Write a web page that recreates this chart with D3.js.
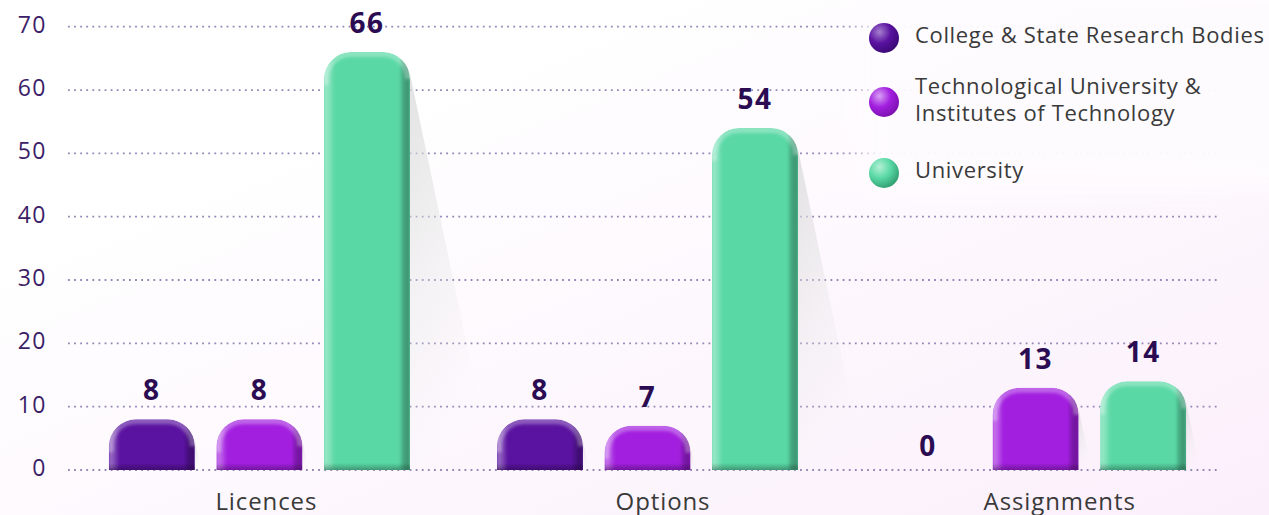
<!DOCTYPE html>
<html>
<head>
<meta charset="utf-8">
<script src="https://cdn.jsdelivr.net/npm/d3@7"></script>
<style>
  body { margin: 0; background: #fff; }
  #viz svg { display: block; }
  text { font-family: "Open Sans", sans-serif; }
</style>
</head>
<body>
<div id="viz"></div>
<script>
var categories = ['Licences', 'Options', 'Assignments'];
var seriesNames = ['College & State Research Bodies', 'Technological University & Institutes of Technology', 'University'];
var legendLines = [['College & State Research Bodies'], ['Technological University &', 'Institutes of Technology'], ['University']];
var collegeValues = [8, 8, 0];
var techValues = [8, 7, 13];
var universityValues = [66, 54, 14];
var yTicks = [0, 10, 20, 30, 40, 50, 60, 70];

var width = 1269,
    height = 515;

var barColors = ['#5a12a0', '#a21fdf', '#59d8a5'];
var sphereLight = ['#a77fd0', '#d8a0f4', '#b4f0d6'];
var sphereDark = ['#3a0874', '#7a10ad', '#2f9c70'];

// build rows for the bars
var rows = [];
categories.forEach(function (c, i) {
    [collegeValues, techValues, universityValues].forEach(function (vals, s) {
        rows.push({ cat: c, series: s, value: vals[i], id: i * 3 + s });
    });
});

var svg = d3.select('#viz').append('svg')
    .attr('width', width)
    .attr('height', height);

var defs = svg.append('defs');

// background wash
var bg = defs.append('linearGradient').attr('id', 'bg')
    .attr('x1', 0).attr('y1', 0).attr('x2', 1).attr('y2', 1);
bg.append('stop').attr('offset', 0.25).attr('stop-color', '#ffffff');
bg.append('stop').attr('offset', 1).attr('stop-color', '#fbeffb');

svg.append('rect')
    .attr('width', width).attr('height', height)
    .attr('fill', 'url(#bg)');

var yScale = d3.scaleLinear()
    .domain([0, 70])
    .range([470, 26.7]);

var x0 = d3.scaleBand()
    .domain(categories)
    .range([70, 1225])
    .paddingInner(0.224)
    .paddingOuter(0.1);

var x1 = d3.scaleBand()
    .domain([0, 1, 2])
    .range([0, x0.bandwidth()])
    .paddingInner(0.2);

var labelScale = d3.scaleBand()
    .domain(categories)
    .range([68, 1258]);

// gridlines
svg.append('g').selectAll('line').data(yTicks)
    .enter().append('line')
    .attr('x1', 68)
    .attr('x2', 1218)
    .attr('y1', function (d) { return yScale(d); })
    .attr('y2', function (d) { return yScale(d); })
    .attr('stroke', '#9186b5')
    .attr('stroke-width', 1.8)
    .attr('stroke-dasharray', '1.8,4.3');

// y labels
svg.append('g').selectAll('text').data(yTicks)
    .enter().append('text')
    .attr('x', 47)
    .attr('y', function (d) { return yScale(d) + 6; })
    .attr('text-anchor', 'end')
    .attr('fill', '#3b1d68')
    .style('font-size', '23px')
    .style('letter-spacing', '1.5px')
    .text(function (d) { return d; });

// shading gradients
var hShade = defs.append('linearGradient').attr('id', 'hshade')
    .attr('x1', 0).attr('y1', 0).attr('x2', 1).attr('y2', 0);
[[0, '#fff', 0.45], [0.09, '#fff', 0.15], [0.12, '#fff', 0], [0.88, '#000', 0], [0.91, '#000', 0.2], [1, '#000', 0.35]]
    .forEach(function (s) {
        hShade.append('stop').attr('offset', s[0]).attr('stop-color', s[1]).attr('stop-opacity', s[2]);
    });

var shadowGrad = defs.append('linearGradient').attr('id', 'shadowgrad')
    .attr('x1', 0).attr('y1', 0).attr('x2', 0.3).attr('y2', 1);
shadowGrad.append('stop').attr('offset', 0).attr('stop-color', '#d8d8d8').attr('stop-opacity', 0.75);
shadowGrad.append('stop').attr('offset', 0.85).attr('stop-color', '#e6e6e6').attr('stop-opacity', 0.1);
shadowGrad.append('stop').attr('offset', 1).attr('stop-color', '#eeeeee').attr('stop-opacity', 0);

var bottomShade = defs.append('linearGradient').attr('id', 'bshade')
    .attr('x1', 0).attr('y1', 0).attr('x2', 0).attr('y2', 1);
bottomShade.append('stop').attr('offset', 0).attr('stop-color', '#000').attr('stop-opacity', 0);
bottomShade.append('stop').attr('offset', 1).attr('stop-color', '#000').attr('stop-opacity', 0.3);

defs.append('filter').attr('id', 'soft')
    .append('feGaussianBlur').attr('stdDeviation', 1.6);

defs.append('filter').attr('id', 'fog')
    .attr('x', -0.2).attr('y', -0.2).attr('width', 1.4).attr('height', 1.4)
    .append('feGaussianBlur').attr('stdDeviation', 12);

// soft white patch behind the legend, fades the gridlines there
svg.append('rect')
    .attr('x', 862).attr('y', -20)
    .attr('width', 440).attr('height', 210)
    .attr('rx', 20)
    .attr('fill', '#fefcfe')
    .attr('opacity', 0.95)
    .attr('filter', 'url(#fog)');

var radius = 27;

function barPath(d) {
    var x = x0(d.cat) + x1(d.series),
        w = x1.bandwidth(),
        y = yScale(d.value),
        b = yScale(0),
        r = Math.min(radius, (b - y));
    return 'M' + x + ',' + b +
        'V' + (y + r) +
        'A' + r + ',' + r + ' 0 0 1 ' + (x + r) + ',' + y +
        'H' + (x + w - r) +
        'A' + r + ',' + r + ' 0 0 1 ' + (x + w) + ',' + (y + r) +
        'V' + b + 'Z';
}

function topPath(d) {
    var x = x0(d.cat) + x1(d.series),
        w = x1.bandwidth(),
        y = yScale(d.value),
        b = yScale(0),
        r = Math.min(radius, (b - y));
    return 'M' + x + ',' + (y + r + 6) +
        'V' + (y + r) +
        'A' + r + ',' + r + ' 0 0 1 ' + (x + r) + ',' + y +
        'H' + (x + w - r) +
        'A' + r + ',' + r + ' 0 0 1 ' + (x + w) + ',' + (y + r);
}

var bars = rows.filter(function (d) { return d.value > 0; });

// shadows behind bars
svg.append('g').selectAll('path').data(bars)
    .enter().append('path')
    .attr('d', function (d) {
        var xr = x0(d.cat) + x1(d.series) + x1.bandwidth(),
            y = yScale(d.value) + radius * 0.8,
            b = yScale(0);
        return 'M' + xr + ',' + y + 'L' + (xr + (b - y) * 0.21) + ',' + b + 'L' + xr + ',' + b + 'Z';
    })
    .attr('fill', 'url(#shadowgrad)');

defs.selectAll('clipPath').data(bars)
    .enter().append('clipPath')
    .attr('id', function (d) { return 'clip' + d.id; })
    .append('path')
    .attr('d', barPath);

var barG = svg.append('g').selectAll('g').data(bars)
    .enter().append('g')
    .attr('clip-path', function (d) { return 'url(#clip' + d.id + ')'; });

barG.append('path')
    .attr('d', barPath)
    .attr('fill', function (d) { return barColors[d.series]; });

barG.append('rect')
    .attr('x', function (d) { return x0(d.cat) + x1(d.series); })
    .attr('y', function (d) { return yScale(d.value); })
    .attr('width', x1.bandwidth())
    .attr('height', function (d) { return yScale(0) - yScale(d.value); })
    .attr('fill', 'url(#hshade)')
    .attr('filter', 'url(#soft)');

barG.append('path')
    .attr('d', topPath)
    .attr('fill', 'none')
    .attr('stroke', '#fff')
    .attr('stroke-opacity', 0.3)
    .attr('stroke-width', 10)
    .attr('filter', 'url(#soft)');

barG.append('rect')
    .attr('x', function (d) { return x0(d.cat) + x1(d.series); })
    .attr('y', yScale(0) - 7)
    .attr('width', x1.bandwidth())
    .attr('height', 7)
    .attr('fill', 'url(#bshade)');

// value labels
svg.append('g').selectAll('text').data(rows)
    .enter().append('text')
    .attr('x', function (d) { return x0(d.cat) + x1(d.series) + x1.bandwidth() / 2; })
    .attr('y', function (d) { return yScale(d.value) - (d.value === 0 ? 14 : 19); })
    .attr('text-anchor', 'middle')
    .attr('fill', '#2b0c52')
    .style('font-size', '28px')
    .style('font-weight', 'bold')
    .style('letter-spacing', '1.5px')
    .text(function (d) { return d.value; });

// category labels
svg.append('g').selectAll('text').data(categories)
    .enter().append('text')
    .attr('x', function (d) { return labelScale(d) + labelScale.bandwidth() / 2; })
    .attr('y', 510)
    .attr('text-anchor', 'middle')
    .attr('fill', '#3a3a3a')
    .style('font-size', '24px')
    .style('letter-spacing', '0.9px')
    .text(function (d) { return d; });

// legend
var legendY = [38, 102, 173];
seriesNames.forEach(function (name, i) {
    var g = defs.append('radialGradient').attr('id', 'sph' + i)
        .attr('cx', 0.35).attr('cy', 0.3).attr('r', 0.75);
    g.append('stop').attr('offset', 0).attr('stop-color', sphereLight[i]);
    g.append('stop').attr('offset', 0.5).attr('stop-color', barColors[i]);
    g.append('stop').attr('offset', 1).attr('stop-color', sphereDark[i]);
});

var legend = svg.append('g').selectAll('g').data(seriesNames)
    .enter().append('g');

legend.append('circle')
    .attr('cx', 884)
    .attr('cy', function (d, i) { return legendY[i]; })
    .attr('r', 15)
    .attr('fill', function (d, i) { return 'url(#sph' + i + ')'; });

legend.append('text')
    .attr('x', 915)
    .attr('y', function (d, i) { return legendY[i] + 5 - (legendLines[i].length - 1) * 13.5; })
    .attr('fill', '#3a3a3a')
    .style('font-size', '22px')
    .style('letter-spacing', '0.65px')
    .selectAll('tspan').data(function (d, i) { return legendLines[i]; })
    .enter().append('tspan')
    .attr('x', 915)
    .attr('dy', function (d, j) { return j === 0 ? 0 : 27; })
    .text(function (d) { return d; });
</script>
</body>
</html>
